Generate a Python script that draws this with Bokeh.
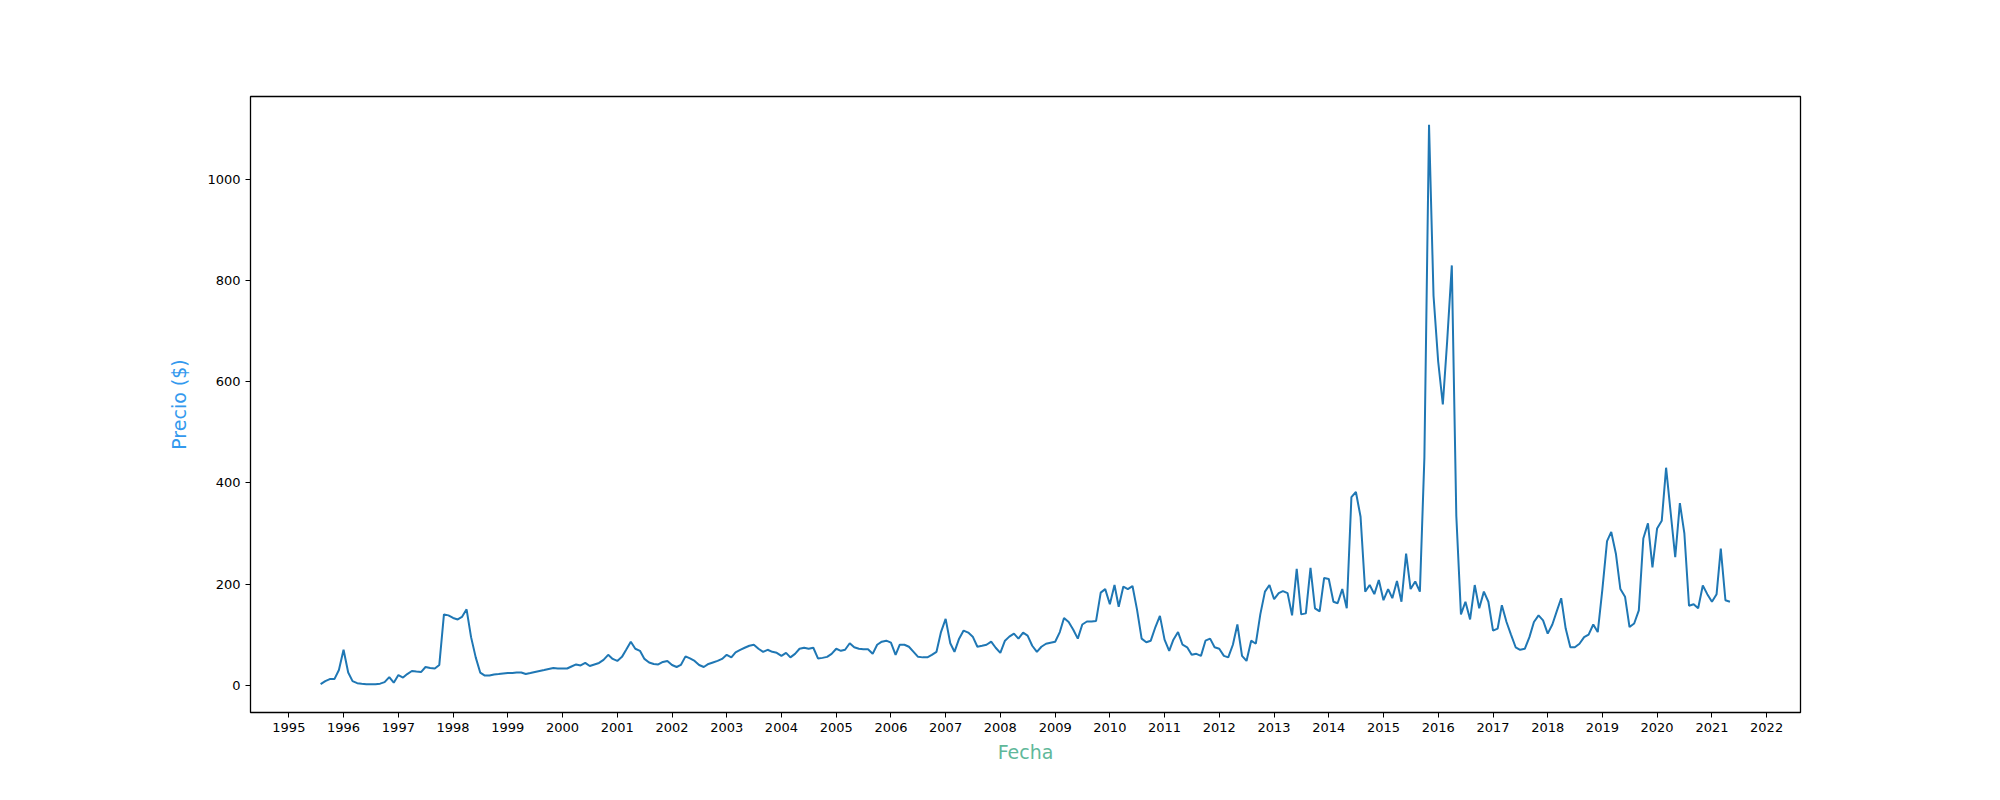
import pandas as pd
from bokeh.plotting import figure
from bokeh.models import Range1d, FixedTicker, DatetimeTickFormatter, Label
from bokeh.embed import file_html
from bokeh.resources import INLINE

start_month = "1995-08-01"
precio = [
    2, 8, 12, 12, 30,
    70, 25, 8, 4, 3, 2, 2, 2, 3, 6, 16, 5,
    20, 15, 22, 28, 27, 26, 36, 34, 33, 40, 140, 138,
    133, 130, 135, 150, 95, 55, 25, 19, 19, 21, 22, 23,
    24, 24, 25, 25, 22, 24, 26, 28, 30, 32, 34, 33,
    33, 33, 37, 41, 39, 44, 38, 41, 44, 50, 60, 52,
    48, 56, 70, 86, 72, 68, 52, 45, 42, 41, 46, 48,
    40, 36, 40, 57, 53, 48, 40, 36, 42, 45, 48, 52,
    60, 55, 65, 70, 74, 78, 80, 72, 66, 70, 66, 64,
    58, 64, 55, 62, 72, 74, 72, 74, 53, 54, 56, 62,
    72, 68, 70, 83, 75, 72, 71, 71, 62, 80, 86, 88,
    84, 60, 80, 80, 76, 66, 56, 55, 55, 60, 66, 105,
    131, 83, 66, 92, 108, 104, 96, 76, 78, 80, 86, 74,
    64, 88, 96, 102, 92, 104, 98, 78, 66, 76, 82, 84,
    86, 105, 133, 125, 110, 92, 120, 126, 126, 127, 183, 190,
    160, 198, 155, 195, 190, 196, 150, 92, 85, 88, 115, 137,
    90, 68, 90, 105, 80, 75, 60, 62, 58, 88, 92, 75,
    72, 58, 55, 80, 120, 58, 48, 88, 82, 140, 185, 198,
    170, 182, 186, 182, 138, 230, 140, 142, 232, 152, 146, 212,
    210, 165, 162, 190, 152, 372, 382, 333, 185, 198, 180, 208,
    168, 190, 172, 206, 165, 260, 190, 205, 185, 450, 1108, 770,
    640, 555, 680, 830, 335, 140, 165, 130, 198, 152, 185, 165,
    108, 112, 158, 125, 100, 75, 70, 72, 95, 125, 138, 128,
    102, 120, 145, 172, 112, 75, 75, 82, 95, 100, 120, 105,
    190, 285, 303, 260, 190, 175, 115, 122, 148, 290, 320, 233,
    310, 325, 430, 340, 253, 360, 300, 157, 160, 152, 197, 180,
    165, 180, 270, 168, 165,
]
fechas = pd.date_range(start_month, periods=len(precio), freq="MS")
anios = list(range(1995, 2023))
tick_ms = [pd.Timestamp(f"{a}-01-01").value // 10**6 for a in anios]

p = figure(width=1984, height=784, output_backend="svg", toolbar_location=None,
           x_axis_type="datetime",
           x_range=Range1d(pd.Timestamp("1994-04-20"), pd.Timestamp("2022-08-15")),
           y_range=Range1d(-54, 1164),
           min_border_left=250, min_border_right=184, min_border_top=96, min_border_bottom=72)
p.line(fechas, precio, line_color="#1f77b4", line_width=2)

p.grid.visible = False
p.outline_line_color = "black"
p.outline_line_width = 1.3
p.xaxis.ticker = FixedTicker(ticks=tick_ms)
p.xaxis.formatter = DatetimeTickFormatter(years="%Y", months="%Y", days="%Y")
p.yaxis.ticker = FixedTicker(ticks=[0, 200, 400, 600, 800, 1000])
for ax in (p.xaxis[0], p.yaxis[0]):
    ax.axis_line_color = None
    ax.major_tick_in = 0
    ax.major_tick_out = 5
    ax.minor_tick_out = 0
    ax.minor_tick_in = 0
    ax.major_label_text_font = "DejaVu Sans"
    ax.major_label_text_font_size = "13px"
    ax.major_label_text_color = "black"
    ax.axis_label_text_font = "DejaVu Sans"
    ax.axis_label_text_font_size = "19px"
    ax.axis_label_text_font_style = "normal"
p.xaxis.axis_label = "Fecha"
p.xaxis.axis_label_text_color = "#5fb89a"
p.xaxis.axis_label_standoff = 6
p.yaxis.axis_label = "Precio ($)"
p.yaxis.axis_label_text_color = "#3399ee"
p.yaxis.axis_label_standoff = 14

title = Label(x=750, y=684, x_units="screen", y_units="screen", text="Precio Mensual Promedio Bolsa Nacional",
              text_font="DejaVu Sans", text_font_size="27px", text_align="center", text_baseline="middle",
              text_color="black")
p.add_layout(title)

open("out.html", "w").write(file_html(p, INLINE))
